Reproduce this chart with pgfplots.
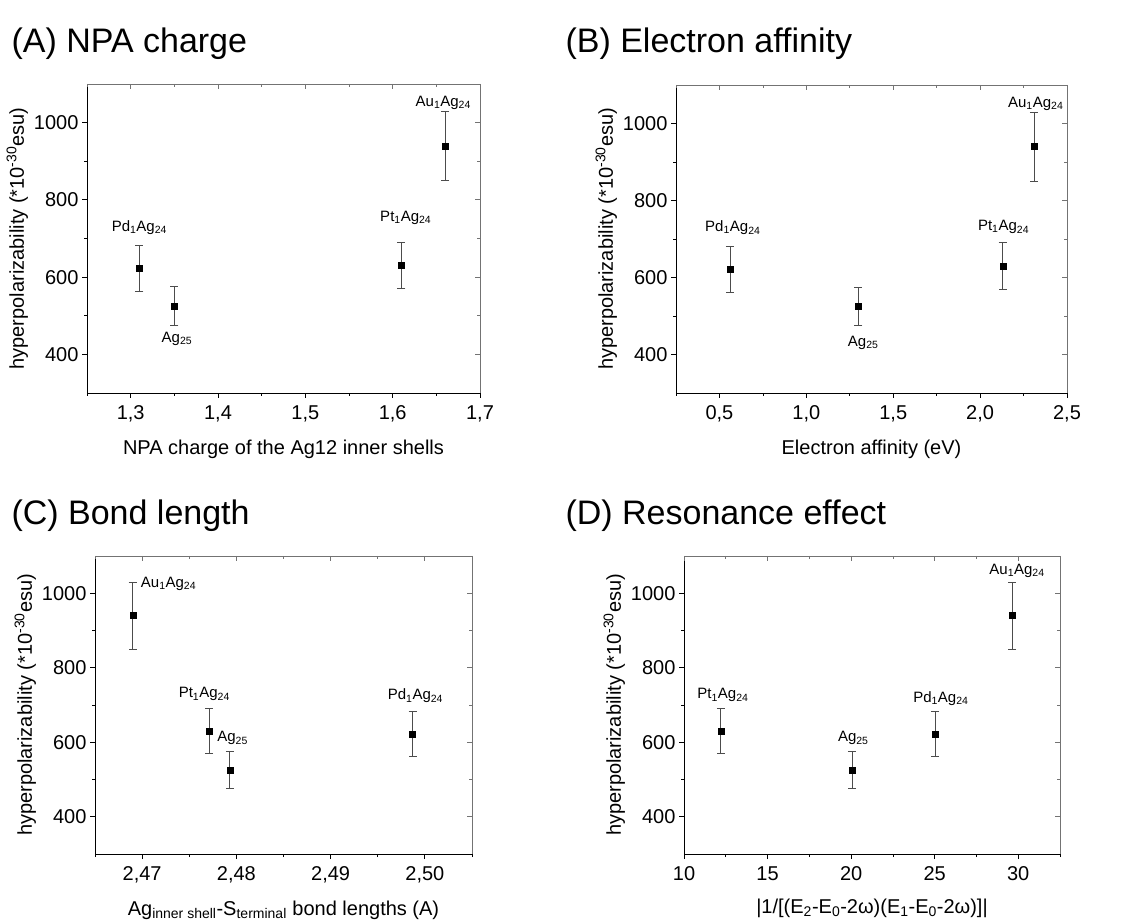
\documentclass[border=0pt]{standalone}
\usepackage{pgfplots}
\pgfplotsset{compat=1.18}
\usepackage{fontspec}
\setmainfont{Liberation Sans}
\newcommand\lbl[1]{\fontsize{15}{18}\selectfont #1}
\pgfplotsset{
 base/.style={scale only axis, ymin=300, ymax=1100, clip=false,
   /pgf/number format/assume math mode=true,
   /pgf/number format/1000 sep={},
   ytick={400,600,800,1000}, minor ytick={500,700,900},
   major tick length=5pt, minor tick length=3pt},
 main/.style={base, axis lines=left, axis line style={-, line width=0.8pt},
   tick align=outside, tick style={black, line width=0.8pt},
   ticklabel style={font=\fontsize{20}{24}\selectfont},
   label style={font=\fontsize{20}{24}\selectfont},
   xticklabel style={yshift=-4pt},
   xlabel style={yshift=-11pt},
   ylabel={hyperpolarizability (*10\textsuperscript{-30}esu)},
   ylabel style={yshift=-1pt}},
 over/.style={base, axis x line=top, axis y line=right,
   axis line style={-, black!55, line width=0.8pt},
   tick align=inside, tick style={black!55, line width=0.8pt},
   ticklabel style={opacity=0}},
 pts/.style={only marks, mark=square*, mark size=3pt, black,
   error bars/.cd, y dir=both, y explicit,
   error bar style={line width=0.7pt, black!70},
   error mark options={rotate=90, mark size=4pt, line width=0.7pt, black!70}}
}
\begin{document}
\begin{tikzpicture}
\useasboundingbox (0pt,0pt) rectangle (1123pt,920pt);
\node[anchor=west, font=\fontsize{34}{40}\selectfont] at (8pt,876pt) {(A) NPA charge};
\node[anchor=west, font=\fontsize{34}{40}\selectfont] at (562pt,876pt) {(B) Electron affinity};
\node[anchor=west, font=\fontsize{34}{40}\selectfont] at (8pt,404pt) {(C) Bond length};
\node[anchor=west, font=\fontsize{34}{40}\selectfont] at (562pt,404pt) {(D) Resonance effect};

% ---------- A ----------
\begin{axis}[main, at={(87pt,527pt)}, anchor=south west, width=393pt, height=309pt,
  xmin=1.25, xmax=1.7, xtick={1.3,1.4,1.5,1.6,1.7}, minor xtick={1.25,1.35,1.45,1.55,1.65},
  xticklabel style={/pgf/number format/.cd, use comma, fixed, fixed zerofill, precision=1},
  xlabel={NPA charge of the Ag12 inner shells}]
\addplot[pts] coordinates {(1.31,622) +- (0,60) (1.35,525) +- (0,50) (1.61,630) +- (0,60) (1.66,940) +- (0,90)};
\node at (axis cs:1.31,729) {\lbl{Pd\textsubscript{1}Ag\textsubscript{24}}};
\node at (axis cs:1.353,440) {\lbl{Ag\textsubscript{25}}};
\node at (axis cs:1.615,753) {\lbl{Pt\textsubscript{1}Ag\textsubscript{24}}};
\node at (axis cs:1.658,1051) {\lbl{Au\textsubscript{1}Ag\textsubscript{24}}};
\end{axis}
\begin{axis}[over, at={(87pt,527pt)}, anchor=south west, width=393pt, height=309pt,
  xmin=1.25, xmax=1.7, xtick={1.3,1.4,1.5,1.6,1.7}, minor xtick={1.25,1.35,1.45,1.55,1.65}]
\end{axis}

% ---------- B ----------
\begin{axis}[main, at={(676pt,527pt)}, anchor=south west, width=391pt, height=308pt,
  xmin=0.25, xmax=2.5, xtick={0.5,1,1.5,2,2.5}, minor xtick={0.25,0.75,1.25,1.75,2.25},
  xticklabel style={/pgf/number format/.cd, use comma, fixed, fixed zerofill, precision=1},
  xlabel={Electron affinity (eV)}]
\addplot[pts] coordinates {(0.56,622) +- (0,60) (1.30,525) +- (0,50) (2.13,630) +- (0,60) (2.31,940) +- (0,90)};
\node at (axis cs:0.577,729) {\lbl{Pd\textsubscript{1}Ag\textsubscript{24}}};
\node at (axis cs:1.327,430) {\lbl{Ag\textsubscript{25}}};
\node at (axis cs:2.135,731) {\lbl{Pt\textsubscript{1}Ag\textsubscript{24}}};
\node at (axis cs:2.32,1051) {\lbl{Au\textsubscript{1}Ag\textsubscript{24}}};
\end{axis}
\begin{axis}[over, at={(676pt,527pt)}, anchor=south west, width=391pt, height=308pt,
  xmin=0.25, xmax=2.5, xtick={0.5,1,1.5,2,2.5}, minor xtick={0.25,0.75,1.25,1.75,2.25}]
\end{axis}

% ---------- C ----------
\begin{axis}[main, at={(95pt,66pt)}, anchor=south west, width=377pt, height=298pt,
  xmin=2.465, xmax=2.505, xtick={2.47,2.48,2.49,2.50}, minor xtick={2.465,2.475,2.485,2.495,2.505},
  xticklabel style={/pgf/number format/.cd, use comma, fixed, fixed zerofill, precision=2},
  xlabel={Ag\textsubscript{inner shell}-S\textsubscript{terminal} bond lengths (A)}]
\addplot[pts] coordinates {(2.469,940) +- (0,90) (2.4771,630) +- (0,60) (2.4793,525) +- (0,50) (2.4987,622) +- (0,60)};
\node at (axis cs:2.4728,1025) {\lbl{Au\textsubscript{1}Ag\textsubscript{24}}};
\node at (axis cs:2.4766,729) {\lbl{Pt\textsubscript{1}Ag\textsubscript{24}}};
\node at (axis cs:2.4796,611) {\lbl{Ag\textsubscript{25}}};
\node at (axis cs:2.4990,724) {\lbl{Pd\textsubscript{1}Ag\textsubscript{24}}};
\end{axis}
\begin{axis}[over, at={(95pt,66pt)}, anchor=south west, width=377pt, height=298pt,
  xmin=2.465, xmax=2.505, xtick={2.47,2.48,2.49,2.50}, minor xtick={2.465,2.475,2.485,2.495,2.505}]
\end{axis}

% ---------- D ----------
\begin{axis}[main, at={(684pt,66pt)}, anchor=south west, width=376pt, height=298pt,
  xmin=10, xmax=32.5, xtick={10,15,20,25,30}, minor xtick={12.5,17.5,22.5,27.5,32.5},
  xlabel={|1/[(E\textsubscript{2}-E\textsubscript{0}-2ω)(E\textsubscript{1}-E\textsubscript{0}-2ω)]|}]
\addplot[pts] coordinates {(12.2,630) +- (0,60) (20.05,525) +- (0,50) (25.03,622) +- (0,60) (29.64,940) +- (0,90)};
\node at (axis cs:12.33,726) {\lbl{Pt\textsubscript{1}Ag\textsubscript{24}}};
\node at (axis cs:20.13,611) {\lbl{Ag\textsubscript{25}}};
\node at (axis cs:25.37,718) {\lbl{Pd\textsubscript{1}Ag\textsubscript{24}}};
\node at (axis cs:29.93,1061) {\lbl{Au\textsubscript{1}Ag\textsubscript{24}}};
\end{axis}
\begin{axis}[over, at={(684pt,66pt)}, anchor=south west, width=376pt, height=298pt,
  xmin=10, xmax=32.5, xtick={10,15,20,25,30}, minor xtick={12.5,17.5,22.5,27.5,32.5}]
\end{axis}
\end{tikzpicture}
\end{document}
